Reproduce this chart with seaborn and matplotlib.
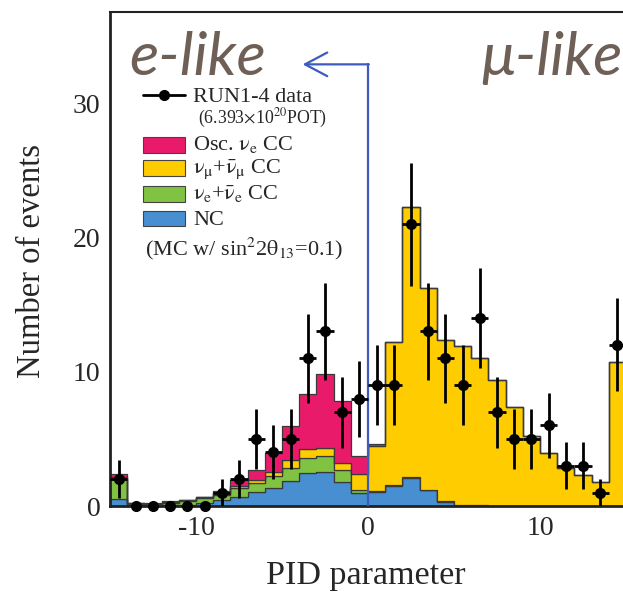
import numpy as np
import pandas as pd
import seaborn as sns
import matplotlib.pyplot as plt
from matplotlib.lines import Line2D
from matplotlib.patches import Rectangle
from matplotlib.ticker import MultipleLocator

# lower edges of the unit-width PID bins
bin_lo = np.arange(-15, 15)

# stacked MC tops (NC, +nue CC, +numu CC, +osc nue CC)
top_nc = [0.55, 0.05, 0.05, 0.08, 0.10, 0.20, 0.42, 0.69, 1.03, 1.32,
          1.84, 2.45, 2.55, 1.80, 0.95, 1.08, 1.50, 2.10, 1.18, 0.32,
          0.08, 0.02, 0.01, 0.0, 0.0, 0.0, 0.0, 0.0, 0.0, 0.0]
top_nue = [2.00, 0.18, 0.15, 0.25, 0.38, 0.58, 0.80, 1.35, 1.72, 2.20,
           2.82, 3.56, 3.72, 2.65, 1.18, 1.13, 1.55, 2.15, 1.20, 0.34,
           0.10, 0.04, 0.02, 0.01, 0.01, 0.0, 0.0, 0.0, 0.0, 0.0]
top_numu = [2.15, 0.20, 0.18, 0.33, 0.42, 0.64, 0.95, 1.47, 1.96, 2.57,
            3.43, 4.22, 4.30, 3.22, 2.38, 4.50, 12.25, 22.25, 16.25, 12.40,
            11.90, 11.00, 9.40, 7.35, 5.22, 3.92, 2.84, 2.28, 1.79, 10.70]
top_osc = [2.35, 0.23, 0.20, 0.38, 0.46, 0.70, 1.10, 1.96, 2.70, 3.93,
           5.93, 8.34, 9.85, 7.85, 3.72, 4.60, 12.25, 22.25, 16.25, 12.40,
           11.90, 11.00, 9.40, 7.35, 5.22, 3.92, 2.84, 2.28, 1.79, 10.70]

# RUN1-4 data counts per bin
data_counts = [2, 0, 0, 0, 0, 0, 1, 2, 5, 4, 5, 11, 13, 7, 8,
               9, 9, 21, 13, 11, 9, 14, 7, 5, 5, 6, 3, 3, 1, 12]

components = ["osc", "numu", "nue", "nc"]
colors = {"osc": "#EA1A6B", "numu": "#FFCC00", "nue": "#80C342", "nc": "#478FD1"}

nc = np.array(top_nc)
nue = np.array(top_nue) - nc
numu = np.array(top_numu) - np.array(top_nue)
osc = np.array(top_osc) - np.array(top_numu)

centers = bin_lo + 0.5
rows = []
for name, vals in zip(components, [osc, numu, nue, nc]):
    for c, v in zip(centers, vals):
        rows.append((c, max(v, 0.0), name))
df = pd.DataFrame(rows, columns=["pid", "events", "component"])

sns.set_style("white")
plt.rcParams["font.family"] = ["Liberation Serif", "DejaVu Serif"]
plt.rcParams["mathtext.fontset"] = "stix"
plt.rcParams["axes.unicode_minus"] = False

W, H = 623, 596
fig = plt.figure(figsize=(W / 100, H / 100), dpi=100)
ax = fig.add_axes([110 / W, 90 / H, 516 / W, 494 / H])

sns.histplot(data=df, x="pid", weights="events", hue="component",
             hue_order=components, palette=colors, multiple="stack",
             binwidth=1, binrange=(-15, 15), element="step", alpha=1,
             edgecolor="#3a3a3a", linewidth=0.9, legend=False, ax=ax)

# data points with sqrt(N) errors
d = np.array(data_counts, dtype=float)
nz = d > 0
ax.errorbar(centers[nz], d[nz], yerr=np.sqrt(d[nz]), xerr=0.5, fmt="o",
            color="black", ms=7, elinewidth=2, capsize=0, zorder=6)
ax.plot(centers[~nz], d[~nz], "o", color="black", ms=7, clip_on=False,
        zorder=6)

# e-like / mu-like divider
blue = "#3B5BC0"
ax.plot([0, 0], [0, 32.9], color=blue, lw=1.6, zorder=5)
ax.annotate("", xy=(-3.8, 32.9), xytext=(0.05, 32.9),
            arrowprops=dict(arrowstyle="->,head_length=1.6,head_width=0.85",
                            color=blue, lw=1.6, shrinkA=0, shrinkB=0))

ax.set_xlim(-15, 15)
ax.set_ylim(0, 36.8)
ax.xaxis.set_major_locator(MultipleLocator(10))
ax.xaxis.set_minor_locator(MultipleLocator(2))
ax.yaxis.set_major_locator(MultipleLocator(10))
ax.yaxis.set_minor_locator(MultipleLocator(2))
ax.tick_params(which="both", direction="in", labelsize=20, pad=7,
               color="#222222")
ax.tick_params(which="major", length=11, width=1.2)
ax.tick_params(which="minor", length=5, width=1.0)
ax.set_xlabel("")
ax.set_ylabel("")
for side in ["left", "bottom", "top"]:
    ax.spines[side].set_color("#222222")
ax.spines["left"].set_linewidth(2.0)
ax.spines["bottom"].set_linewidth(2.0)
ax.spines["top"].set_linewidth(1.5)
ax.spines["right"].set_visible(False)

fig.text(32 / W, 1 - 261 / H, "Number of events", rotation=90,
         ha="center", va="center", fontsize=23.5)
fig.text(366 / W, 1 - 576 / H, "PID parameter", ha="center", va="center",
         fontsize=24.5)

brown = "#6E6057"
fig.text(129 / W, 1 - 75 / H, "e-like", ha="left", va="baseline",
         fontsize=44, style="italic", color=brown, family=["Lato", "DejaVu Sans"])
fig.text(481 / W, 1 - 75 / H, "\u03bc-like", ha="left", va="baseline",
         fontsize=44, style="italic", color=brown, family=["Lato", "DejaVu Sans"])


def fx(x):
    return x / W


def fy(y):
    return 1 - y / H


# hand-made legend
fig.add_artist(Line2D([fx(143), fx(185)], [fy(95), fy(95)], color="black",
                      lw=2))
fig.add_artist(Line2D([fx(164)], [fy(95)], marker="o", color="black", ms=7))
fig.text(fx(193), fy(102), "RUN1-4 data", fontsize=16, va="baseline")
fig.text(fx(198), fy(123), r"(6.393$\times$10$^{20}$POT)", fontsize=12.8,
         va="baseline")
nu = r"\mathrm{\nu}"
labels = [r"Osc. $%s_{\mathrm{e}}$ CC" % nu,
          r"$%s_{\mathrm{\mu}}$+$\bar{%s}_{\mathrm{\mu}}$ CC" % (nu, nu),
          r"$%s_{\mathrm{e}}$+$\bar{%s}_{\mathrm{e}}$ CC" % (nu, nu),
          "NC"]
box_y = [145, 168, 194, 218.5]
base_y = [150, 173, 199, 225]
for name, lab, by, ty in zip(components, labels, box_y, base_y):
    fig.add_artist(Rectangle((fx(143), fy(by + 7.5)), 42 / W, 15 / H,
                             facecolor=colors[name], edgecolor="#444444",
                             lw=0.8))
    fig.text(fx(193), fy(ty), lab, fontsize=16, va="baseline")
fig.text(fx(145), fy(255),
         r"(MC w/ sin$^{2}$2$\mathrm{\theta}_{13}$=0.1)",
         fontsize=16, va="baseline")

fig.savefig("out.png", dpi=100)
